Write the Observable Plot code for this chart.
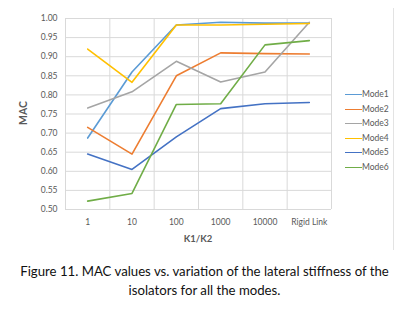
<!DOCTYPE html>
<html><head>
<meta charset="utf-8">
<script src="https://cdn.jsdelivr.net/npm/d3@7"></script>
<script src="https://cdn.jsdelivr.net/npm/@observablehq/plot@0.6"></script>
<style>
body{margin:0;background:#fff;}
#wrap{position:relative;width:409px;height:310px;overflow:hidden;font-family:Lato,"Open Sans",sans-serif;}
#chart{position:absolute;left:0;top:0;}
#border{position:absolute;left:393px;top:8px;width:0;height:242px;border-left:1px solid #e3e3e3;}
#legend{position:absolute;left:345px;top:88px;font-size:8.5px;color:#595959;}
.li{position:relative;height:14.6px;line-height:12px;}
.sw{position:absolute;left:0;top:6px;width:17px;height:0;border-top:1.8px solid;}
.lt{position:absolute;left:17px;top:0;}
#ylab{position:absolute;left:23px;top:113px;transform:translate(-50%,-50%) rotate(-90deg);font-size:10.5px;font-weight:bold;color:#595959;}
#xlab{position:absolute;left:198px;top:238px;transform:translate(-50%,-50%);font-size:9.5px;font-weight:bold;color:#595959;}
#caption{position:absolute;left:0;top:262px;width:409px;text-align:center;font-size:13.2px;line-height:19px;color:#111;}
</style></head><body>
<div id="wrap"><div id="chart"></div><div id="border"></div><div id="legend"></div>
<div id="ylab">MAC</div><div id="xlab">K1/K2</div>
<div id="caption">Figure 11. MAC values vs. variation of the lateral stiffness of the<br>isolators for all the modes.</div></div>
<script>
const categories = ["1","10","100","1000","10000","Rigid Link"];
const seriesNames = ["Mode1","Mode2","Mode3","Mode4","Mode5","Mode6"];
const mode1 = [0.687, 0.860, 0.983, 0.990, 0.988, 0.988];
const mode2 = [0.715, 0.645, 0.850, 0.910, 0.908, 0.907];
const mode3 = [0.766, 0.808, 0.888, 0.834, 0.860, 0.990];
const mode4 = [0.920, 0.833, 0.983, 0.983, 0.985, 0.987];
const mode5 = [0.645, 0.605, 0.690, 0.764, 0.777, 0.780];
const mode6 = [0.522, 0.542, 0.775, 0.777, 0.931, 0.942];
const yTicks = [0.50,0.55,0.60,0.65,0.70,0.75,0.80,0.85,0.90,0.95,1.00];
const colors = ["#5B9BD5","#ED7D31","#A5A5A5","#FFC000","#4472C4","#70AD47"];

const allSeries = [mode1,mode2,mode3,mode4,mode5,mode6];
const rows = [];
allSeries.forEach((s,k)=>s.forEach((v,i)=>rows.push({i, cat:categories[i], mode:seriesNames[k], value:v})));
const idx = categories.map((c,i)=>i);
const bounds = [...idx.map(i=>i-0.5), categories.length-0.5];

const chart = Plot.plot({
  width:409, height:250,
  marginLeft:65, marginRight:78, marginTop:18, marginBottom:41,
  style:{fontFamily:'Lato,"Open Sans",sans-serif', fontSize:"8.5px", color:"#595959", background:"transparent"},
  x:{type:"linear", domain:[-0.5, categories.length-0.5], ticks:idx, tickFormat:i=>categories[i], tickSize:0, tickPadding:9, label:null},
  y:{domain:[0.5,1], ticks:yTicks, tickFormat:d3.format(".2f"), tickSize:0, tickPadding:8, label:null},
  color:{domain:seriesNames, range:colors},
  marks:[
    Plot.ruleY(yTicks,{stroke:"#d9d9d9", strokeWidth:1}),
    Plot.ruleX(bounds,{stroke:"#d9d9d9", strokeWidth:1}),
    Plot.line(rows,{x:"i", y:"value", z:"mode", stroke:"mode", strokeWidth:1.6, strokeLinejoin:"round"})
  ]
});
document.getElementById("chart").appendChild(chart);

const lg = document.getElementById("legend");
seriesNames.forEach((n,k)=>{
  const d = document.createElement("div"); d.className="li";
  d.innerHTML = `<span class="sw" style="border-color:${colors[k]}"></span><span class="lt">${n}</span>`;
  lg.appendChild(d);
});
</script>
</body></html>
